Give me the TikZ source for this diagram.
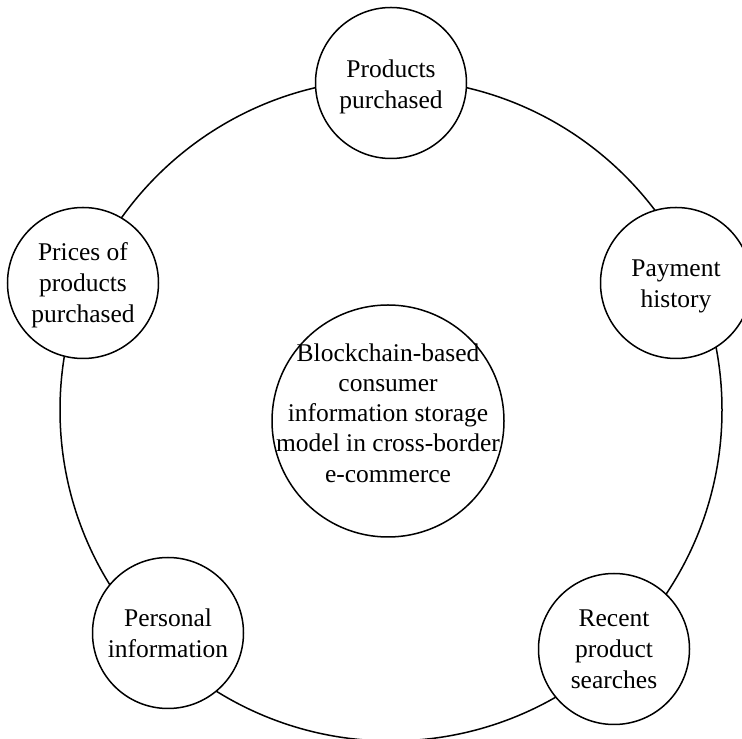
\documentclass[tikz,border=0pt]{standalone}
\usepackage{fontspec}
\setmainfont{Liberation Serif}
\begin{document}
\begin{tikzpicture}[x=1pt,y=1pt,
  ring/.style={line width=1.5pt},
  item/.style={circle,draw,line width=1.5pt,fill=white,minimum size=151pt,
    inner sep=0pt,align=center,font=\fontsize{25.5}{31}\selectfont},
  core/.style={item,minimum size=232pt},
  caption/.style={align=center,inner sep=0pt,font=\fontsize{25.5}{30.2}\selectfont}]
\useasboundingbox (0,0) rectangle (742,739);
% outer ring linking the five data categories
\coordinate (ringc) at (391,329);
\draw[ring] (ringc) circle[radius=331];
% central storage model
\node[core] (model) at (388,318) {};
\node[caption] (modeltext) at ([yshift=8pt]model.center)
  {Blockchain-based\\consumer\\information storage\\model in cross-border\\e-commerce};
% data categories around the ring
\node[item] (products) at (391,656) {};
\node[caption,font=\fontsize{25.5}{31}\selectfont] at ([yshift=-4pt]products.center) {Products\\purchased};
\node[item] (payment) at (676,456) {};
\node[caption,font=\fontsize{25.5}{31}\selectfont] at ([yshift=-3pt]payment.center) {Payment\\history};
\node[item] (searches) at (614,90) {Recent\\product\\searches};
\node[item] (personal) at (168,106) {Personal\\information};
\node[item] (prices) at (83,456) {};
\node[caption,font=\fontsize{25.5}{31}\selectfont] at ([yshift=-2pt]prices.center) {Prices of\\products\\purchased};
\end{tikzpicture}
\end{document}
